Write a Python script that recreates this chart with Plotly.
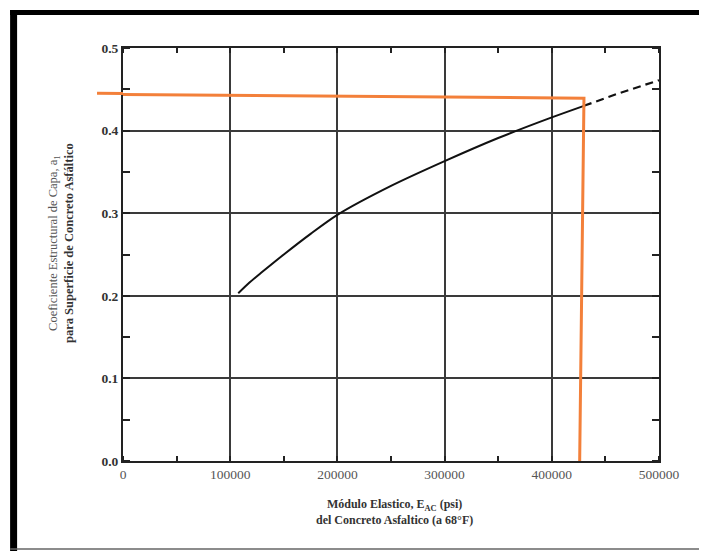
import plotly.graph_objects as go

# ---- data ----
curve_x_solid = [107500, 118000, 130000, 150000, 175000, 200000, 250000, 300000, 350000, 400000, 430000]
curve_y_solid = [0.203, 0.216, 0.229, 0.250, 0.275, 0.298, 0.333, 0.363, 0.391, 0.416, 0.430]
curve_x_dash = [430000, 460000, 500000]
curve_y_dash = [0.430, 0.444, 0.461]

orange_x = [0, 430000, 426000]
orange_y = [0.4438, 0.4393, 0.0]

x_tickvals = [0, 100000, 200000, 300000, 400000, 500000]
x_ticktext = ["0", "100000", "200000", "300000", "400000", "500000"]
y_tickvals = [0.0, 0.1, 0.2, 0.3, 0.4, 0.5]
y_ticktext = ["0.0", "0.1", "0.2", "0.3", "0.4", "0.5"]

# ---- layout geometry (page pixels; page body has an 8px margin) ----
OFF = 8
W, H = 707 - OFF, 551 - OFF
L = 123 - OFF
T = 48 - OFF
R = W - (659.5 - OFF)
B = H - (461 - OFF)
PW = W - L - R
PH = H - T - B


def px_x(p):
    return (p - OFF - L) / PW


def px_y(p):
    return (H - B - (p - OFF)) / PH


SERIF = "Liberation Serif, Times New Roman, serif"
ORANGE = "#F3803A"
GRID = "#3a3a3a"

fig = go.Figure()

fig.add_trace(go.Scatter(x=curve_x_solid, y=curve_y_solid, mode="lines",
                         line=dict(color="#111", width=2, shape="spline", smoothing=0.8),
                         showlegend=False, hoverinfo="skip"))
fig.add_trace(go.Scatter(x=curve_x_dash, y=curve_y_dash, mode="lines",
                         line=dict(color="#111", width=2.2, dash="8px,5px"),
                         showlegend=False, hoverinfo="skip"))
fig.add_trace(go.Scatter(x=orange_x, y=orange_y, mode="lines",
                         line=dict(color=ORANGE, width=3), showlegend=False,
                         hoverinfo="skip"))

shapes = [
    # orange stub left of the y axis
    dict(type="line", xref="paper", yref="paper",
         x0=px_x(97), x1=0, y0=px_y(93.2), y1=px_y(93.5),
         line=dict(color=ORANGE, width=3), layer="above"),
    # outer scanned frame
    dict(type="line", xref="paper", yref="paper",
         x0=px_x(13.5), x1=px_x(13.5), y0=px_y(10), y1=px_y(560),
         line=dict(color="#000", width=7)),
    dict(type="line", xref="paper", yref="paper",
         x0=px_x(10), x1=px_x(720), y0=px_y(12.5), y1=px_y(12.5),
         line=dict(color="#000", width=5)),
    dict(type="line", xref="paper", yref="paper",
         x0=px_x(10), x1=px_x(720), y0=px_y(549), y1=px_y(549),
         line=dict(color="#666", width=1.5)),
]

annotations = [
    dict(xref="paper", yref="paper", x=px_x(61), y=px_y(243),
         text=("<span style='color:#555'>Coeficiente Estructural de Capa, a<sub>1</sub></span>"
               "<br><b>para Superficie de Concreto Asfáltico</b>"),
         textangle=-90, showarrow=False, xanchor="center", yanchor="middle",
         font=dict(family=SERIF, size=12.5, color="#333")),
    dict(xref="paper", yref="paper", x=px_x(395), y=px_y(512),
         text=("<b>Módulo Elastico, E<sub>AC</sub> (psi)<br>"
               "del Concreto Asfaltico (a 68°F)</b>"),
         showarrow=False, xanchor="center", yanchor="middle",
         font=dict(family=SERIF, size=12, color="#333")),
]

fig.update_layout(
    width=W, height=H,
    margin=dict(l=L, r=R, t=T, b=B, pad=0),
    paper_bgcolor="white", plot_bgcolor="white",
    shapes=shapes, annotations=annotations,
    xaxis=dict(range=[0, 500000], tickvals=x_tickvals, ticktext=x_ticktext,
               showgrid=True, gridcolor=GRID, gridwidth=1.6,
               showline=True, linecolor="#222", linewidth=2, mirror="allticks",
               ticks="", zeroline=False,
               minor=dict(dtick=50000, tick0=0, ticks="inside", ticklen=5,
                          tickwidth=1.5, tickcolor="#222", showgrid=False),
               tickfont=dict(family=SERIF, size=13.5, color="#555")),
    yaxis=dict(range=[0, 0.5], tickvals=y_tickvals, ticktext=y_ticktext,
               showgrid=True, gridcolor=GRID, gridwidth=1.6,
               showline=True, linecolor="#222", linewidth=2, mirror="allticks",
               ticks="", zeroline=False,
               minor=dict(dtick=0.05, tick0=0, ticks="inside", ticklen=7,
                          tickwidth=1.5, tickcolor="#222", showgrid=False),
               tickfont=dict(family=SERIF, size=13.5, color="#333", weight="bold")),
)

fig.write_html("out.html")
